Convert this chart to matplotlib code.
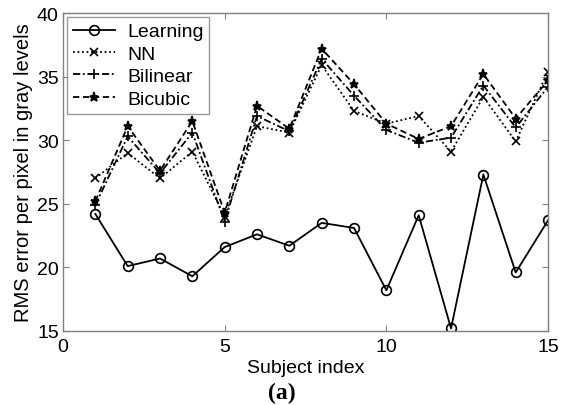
import matplotlib
matplotlib.use("Agg")
import matplotlib.pyplot as plt
import numpy as np

subjects = np.arange(1, 16)
learning = [24.2, 20.1, 20.7, 19.3, 21.6, 22.6, 21.7, 23.5, 23.1, 18.2, 24.1, 15.2, 27.3, 19.6, 23.7]
nn = [27.0, 29.0, 27.0, 29.1, 24.0, 31.1, 30.6, 35.9, 32.3, 31.3, 31.9, 29.1, 33.4, 29.9, 35.4]
bilinear = [24.9, 30.3, 27.4, 30.6, 23.6, 31.9, 30.7, 36.4, 33.5, 30.8, 29.8, 30.2, 34.3, 31.0, 34.2]
bicubic = [25.2, 31.1, 27.6, 31.5, 24.3, 32.7, 30.9, 37.2, 34.4, 31.3, 30.1, 31.1, 35.2, 31.7, 34.7]

# name, values, dash pattern, marker, marker size
series = [
    ("Learning", learning, None, "o", 7),
    ("NN", nn, (1, 1.5), "x", 5.5),
    ("Bilinear", bilinear, (4, 1.5, 1, 1.5), "+", 7),
    ("Bicubic", bicubic, (3.5, 2), "*", 6.5),
]

plt.rcParams['font.family'] = ['Liberation Sans', 'DejaVu Sans']

fig = plt.figure(figsize=(5.64, 4.06), dpi=100)
ax = fig.add_axes([0.1117, 0.1823, 0.86, 0.7832])

for name, vals, dash, mk, ms in series:
    line, = ax.plot(subjects, vals, color='black', marker=mk, markersize=ms,
                    markerfacecolor='none' if mk == 'o' else 'black', markeredgewidth=1.2,
                    linewidth=1.3, label=name)
    if dash is not None:
        line.set_dashes(dash)

ax.set_xlim(0, 15)
ax.set_ylim(15, 40)
ax.set_xticks([0, 5, 10, 15])
ax.set_yticks([15, 20, 25, 30, 35, 40])
ax.tick_params(direction='in', top=True, right=True, labelsize=14, length=4,
               color='#808080')
ax.tick_params(axis='x', pad=5)
ax.tick_params(axis='y', pad=3)
for s in ax.spines.values():
    s.set_color('#808080')
    s.set_linewidth(1.0)

ax.set_xlabel("Subject index", fontsize=14, labelpad=3)
ax.set_ylabel("RMS error per pixel in gray levels", fontsize=14.5, labelpad=3)

leg = ax.legend(loc='upper left', fontsize=14, frameon=True, fancybox=False,
                borderaxespad=0.2, handlelength=2.2, handletextpad=0.6,
                borderpad=0.3, labelspacing=0.25)
leg.get_frame().set_edgecolor('#808080')
leg.get_frame().set_linewidth(1.0)

fig.text(0.5, 0.03, "(a)", ha='center', va='center', fontsize=17, fontweight='bold',
         family='Liberation Serif')

fig.savefig("out.png", dpi=100)
